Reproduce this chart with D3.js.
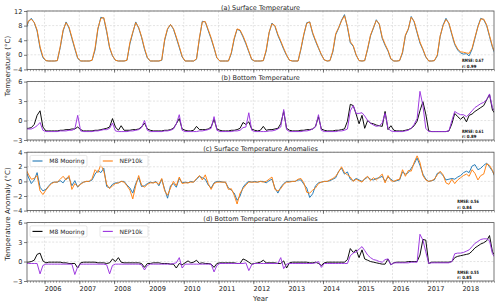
<!DOCTYPE html>
<html><head><meta charset="utf-8">
<script src="https://cdn.jsdelivr.net/npm/d3@7/dist/d3.min.js"></script>
<style>
body{margin:0;background:#fff}
svg{display:block}
text{font-family:"DejaVu Sans",sans-serif}
</style>
</head><body>
<svg id="chart" width="500" height="305"></svg>
<script>
// ---------- DATA (monthly, mid-month, Jun 2005 .. Dec 2018) ----------
const firstMonth = [2005, 5];   // year, month index (June 2005)
const yearLabels = ["2006","2007","2008","2009","2010","2011","2012","2013","2014","2015","2016","2017","2018"];
const seriesNames = ["M8 Mooring", "NEP10k"];
const panelTitles = ["(a) Surface Temperature","(b) Bottom Temperature","(c) Surface Temperature Anomalies","(d) Bottom Temperature Anomalies"];
const statLines = [["RMSE: 0.67","r: 0.99"],["RMSE: 0.61","r: 0.89"],["RMSE: 0.56","r: 0.84"],["RMSE: 0.55","r: 0.85"]];
const yTickValues = [[-4,0,4,8,12],[-3,0,3,6],[-4,-2,0,2,4],[-3,0,3,6]];

const surfM8 = [6.5,9.0,10.0,8.8,6.5,1.8,-0.8,
 -1.6,-1.7,-1.7,-1.7,-1.6,2.0,6.5,9.0,7.3,4.5,1.6,-1.0,
 -1.7,-1.7,-1.7,-1.7,-1.5,1.3,7.0,10.3,10.0,6.3,1.8,-0.3,
 -1.5,-1.7,-1.7,-1.7,-1.5,3.0,6.0,9.0,7.3,4.8,1.5,-0.9,
 -1.7,-1.7,-1.7,-1.7,-1.5,4.0,7.0,8.3,7.0,4.6,2.0,-0.6,
 -1.7,-1.7,-1.7,-1.7,-1.2,4.5,9.2,9.0,6.6,4.4,1.8,-0.9,
 -1.7,-1.7,-1.7,-1.7,0.3,4.3,7.0,6.6,4.9,3.0,0.8,-1.3,
 -1.7,-1.7,-1.7,-1.6,1.0,6.0,8.7,7.8,5.3,3.5,1.5,-0.2,
 -1.5,-1.7,-1.7,-1.7,1.5,5.5,8.8,9.0,5.8,3.7,1.8,0.0,
 -1.4,-1.7,-1.6,0.8,5.5,7.3,9.5,11.0,7.5,3.3,2.3,-0.1,
 -1.6,-1.7,-1.6,1.5,5.2,7.3,9.6,8.3,4.5,2.6,1.0,-1.2,
 -1.7,-1.7,-1.6,0.5,5.2,7.0,10.5,9.0,6.0,3.2,1.4,-0.6,
 -1.7,-1.7,-1.6,-0.3,5.0,8.2,10.0,8.5,5.5,2.8,1.3,0.5,
 0.2,0.3,-0.3,1.5,4.5,7.8,10.0,9.6,8.0,5.0,2.0,0.0];
const surfNEP = [7.0,9.3,9.7,8.9,6.8,2.2,-0.5,
 -1.6,-1.7,-1.7,-1.7,-1.6,2.3,6.8,8.8,7.6,4.8,1.9,-0.8,
 -1.7,-1.7,-1.7,-1.7,-1.5,1.8,7.3,10.0,10.2,6.6,2.1,-0.2,
 -1.5,-1.7,-1.7,-1.7,-1.5,3.4,6.2,8.8,7.5,5.0,1.8,-0.7,
 -1.7,-1.7,-1.7,-1.7,-1.4,4.3,7.2,8.3,7.2,4.9,2.3,-0.4,
 -1.7,-1.7,-1.7,-1.7,-1.1,4.8,9.0,9.1,6.9,4.7,2.0,-0.8,
 -1.7,-1.7,-1.7,-1.7,0.6,4.6,7.1,6.8,5.2,3.3,1.0,-1.2,
 -1.7,-1.7,-1.7,-1.6,1.3,6.2,8.5,8.0,5.6,3.8,1.8,0.0,
 -1.5,-1.7,-1.7,-1.7,1.8,5.8,8.6,9.0,6.1,4.0,2.0,0.1,
 -1.4,-1.7,-1.6,1.1,5.8,7.5,9.3,10.7,7.8,3.6,2.5,0.0,
 -1.6,-1.7,-1.6,1.8,5.4,7.5,9.4,8.5,4.8,2.9,1.2,-1.1,
 -1.7,-1.7,-1.6,0.8,5.4,7.2,10.3,9.2,6.3,3.5,1.6,-0.5,
 -1.7,-1.7,-1.6,0.0,5.2,8.0,9.7,8.7,5.8,3.1,1.6,0.8,
 0.7,0.5,0.4,1.8,4.8,7.6,9.8,9.8,8.2,5.3,2.3,0.3];
const botM8 = [-1.2,-1.2,-1.1,-0.6,0.8,1.5,-1.0,
 -1.6,-1.6,-1.6,-1.6,-1.6,-1.5,-1.5,-1.4,-1.4,-1.3,-1.3,-1.0,
 -1.4,-1.6,-1.6,-1.6,-1.6,-1.5,-1.5,-1.4,-1.3,-1.2,-1.0,0.3,
 -1.0,-1.5,-0.8,-1.5,-1.5,-1.5,-1.4,-1.4,-1.3,-1.0,-0.4,-1.3,
 -1.5,-1.6,-1.6,-1.6,-1.6,-1.5,-1.5,-1.4,-1.2,-0.5,0.3,-1.3,
 -1.5,-1.6,-1.6,-1.5,-0.9,-1.4,-1.4,-1.4,-1.3,-1.0,0.2,-1.3,
 -1.5,-1.6,-1.6,-1.6,-1.5,-1.5,-1.4,-1.2,-0.3,-0.6,-0.2,-1.3,
 -1.5,-1.6,-1.5,-0.9,-1.5,-1.4,-1.4,-1.3,-1.2,-0.5,1.4,-1.2,
 -1.5,-1.6,-1.6,-1.6,-1.5,-1.5,-1.4,-1.4,-1.3,-0.9,0.6,-1.3,
 -1.5,-1.6,-1.6,-1.6,-1.5,-1.5,-1.4,-1.3,-0.1,2.5,2.3,1.0,
 -0.5,0.8,-1.2,0.0,-0.4,-0.5,-0.7,-0.8,-0.9,1.4,-1.4,-0.8,
 -1.5,-1.6,-1.6,-1.6,-1.5,-1.4,-1.2,-0.8,-0.1,1.5,2.9,1.0,
 -1.6,-1.7,-1.7,-1.7,-1.7,-1.7,-1.7,-1.6,-0.5,1.1,0.6,0.2,
 0.6,-0.2,0.8,1.0,1.4,1.7,2.0,2.3,3.2,4.0,1.6,1.0];
const botNEP = [-1.3,-1.3,-1.3,-1.1,-0.8,-0.3,-1.5,
 -1.7,-1.7,-1.7,-1.7,-1.7,-1.6,-1.6,-1.6,-1.5,-1.5,-1.3,0.8,
 -1.6,-1.7,-1.7,-1.7,-1.7,-1.6,-1.6,-1.5,-1.4,-1.4,-1.2,-0.4,
 -1.6,-1.7,-1.7,-1.7,-1.7,-1.6,-1.6,-1.5,-1.4,-1.1,0.0,-1.5,
 -1.7,-1.7,-1.7,-1.7,-1.7,-1.6,-1.6,-1.5,-1.3,-0.5,0.9,-1.5,
 -1.7,-1.7,-1.7,-1.7,-1.7,-1.6,-1.6,-1.5,-1.4,-1.2,0.6,-1.5,
 -1.7,-1.7,-1.7,-1.7,-1.7,-1.6,-1.6,-1.5,-1.1,-1.0,1.2,-1.5,
 -1.7,-1.7,-1.7,-1.7,-1.7,-1.6,-1.6,-1.5,-1.3,-1.0,1.7,-1.4,
 -1.7,-1.7,-1.7,-1.7,-1.7,-1.6,-1.6,-1.5,-1.3,-1.0,0.9,-1.5,
 -1.7,-1.7,-1.7,-1.7,-1.7,-1.6,-1.6,-1.5,-1.3,1.5,2.3,1.1,
 1.1,1.2,0.7,0.0,-0.4,-0.7,-0.9,-0.8,-0.4,1.1,-1.2,-1.6,
 -1.7,-1.7,-1.7,-1.7,-1.6,-1.5,-1.2,-0.6,0.3,4.5,2.3,-1.2,
 -1.7,-1.7,-1.7,-1.7,-1.7,-1.7,-1.7,-1.6,0.0,1.4,1.1,0.9,
 0.9,0.6,1.0,1.5,2.0,2.3,2.6,2.8,3.2,4.1,2.0,1.2];
const surfAnomM8 = [1.6,0.6,-0.3,0.2,1.2,-0.8,-1.3,
 -1.1,-0.6,-0.2,-0.1,-0.1,0.1,-0.2,0.4,0.5,-0.6,0.1,-0.8,
 -0.3,-0.1,0.0,0.0,0.2,1.0,1.5,1.2,1.8,-0.7,-0.9,-0.4,
 -0.2,-0.2,0.0,0.0,-0.5,-0.9,-1.6,-0.3,0.5,-0.7,-0.6,-0.3,
 -0.1,-0.2,0.0,-0.6,0.3,-1.1,-2.3,-0.6,-0.3,-0.8,0.4,-0.2,
 -0.1,-0.2,0.0,-0.1,0.3,0.7,0.5,0.3,-0.5,-0.9,-0.2,0.0,
 0.0,-0.1,-0.1,-0.9,-1.2,-1.6,-2.6,-2.0,-0.8,-0.3,0.0,-0.1,
 0.0,-0.1,0.0,0.0,-0.2,0.1,0.3,-0.9,-1.6,-0.8,-0.3,0.0,
 0.0,0.0,0.0,0.2,0.2,-0.4,-0.9,-2.2,-1.7,-0.6,-0.2,-0.1,
 0.0,0.0,0.1,0.3,0.5,1.4,1.8,1.0,1.3,0.3,0.1,0.4,
 0.2,0.0,0.3,0.6,0.3,0.2,0.4,0.5,0.7,0.0,0.6,0.3,
 0.0,0.1,0.2,1.3,1.0,1.2,1.8,2.4,3.2,2.2,1.0,0.3,
 0.0,0.1,0.2,1.1,1.2,0.8,0.2,0.3,0.4,0.3,0.6,0.8,
 1.2,1.4,1.2,2.1,2.3,1.6,1.8,2.2,2.5,2.0,1.4,0.5];
const surfAnomNEP = [1.8,1.0,0.3,0.4,0.8,-1.3,-1.8,
 -1.2,-0.7,-0.3,-0.1,-0.1,0.3,0.7,0.2,0.8,-1.1,-0.3,-0.7,
 -0.4,-0.1,0.0,0.0,0.4,1.6,1.2,2.3,1.4,-0.4,-1.0,-0.6,
 -0.3,-0.2,0.0,-0.1,-0.6,-1.2,-2.4,-0.6,0.8,-0.5,-0.8,-0.4,
 -0.2,-0.2,-0.1,-0.4,0.4,-1.3,-1.9,-0.9,0.0,-0.6,0.6,-0.3,
 -0.2,-0.2,-0.1,-0.1,0.4,0.8,0.2,0.9,-0.3,-1.1,-0.3,-0.1,
 -0.1,-0.1,-0.1,-1.1,-1.0,-1.9,-3.1,-1.6,-1.0,-0.5,-0.1,-0.1,
 -0.1,-0.1,0.0,-0.1,0.0,0.3,0.6,-1.1,-1.3,-1.0,-0.4,-0.1,
 -0.1,0.0,0.0,0.3,0.4,-0.2,-1.5,-1.6,-1.2,-0.9,-0.3,-0.1,
 0.0,0.0,0.2,0.4,0.7,1.3,2.0,1.2,0.9,0.6,0.0,0.3,
 0.1,-0.1,0.4,0.7,0.1,0.5,0.2,0.6,1.0,-0.2,0.8,0.1,
 0.0,0.2,0.3,1.6,0.7,1.5,1.4,2.6,3.5,2.6,0.8,0.2,
 0.0,0.1,0.3,0.9,1.4,0.9,-0.2,-0.4,0.3,-0.3,0.2,0.5,
 0.8,1.0,0.7,1.6,1.1,0.2,0.8,1.0,2.4,2.2,1.5,0.6];
const botAnomM8 = [-0.1,-0.1,0.0,0.2,1.1,1.3,0.1,
 -0.2,-0.1,-0.1,-0.1,-0.1,-0.1,-0.2,-0.2,-0.3,-0.3,-0.3,-1.0,
 -0.2,-0.1,-0.1,-0.1,-0.1,-0.1,-0.2,-0.2,-0.2,-0.3,-0.2,0.4,
 0.0,0.6,-0.1,-0.2,-0.2,-0.2,-0.2,-0.2,-0.2,-0.3,-0.9,-0.3,
 -0.3,-0.2,-0.2,-0.2,-0.3,-0.3,-0.3,-0.4,-0.4,-1.0,-0.3,-0.5,
 -0.2,0.1,-0.2,-0.1,0.2,-0.3,-0.2,-0.3,-0.3,-0.4,-0.9,-0.3,
 -0.2,-0.2,-0.2,-0.2,-0.2,-0.2,-0.3,-0.3,0.4,0.2,-0.1,-0.4,
 -0.3,-0.2,-0.1,0.2,-0.2,-0.2,-0.2,-0.2,-0.3,-0.3,0.1,-1.0,
 -0.2,-0.1,-0.1,-0.1,-0.1,-0.1,-0.1,-0.2,-0.2,-0.1,-0.3,-0.6,
 -0.2,-0.1,-0.1,-0.1,-0.1,-0.1,-0.1,-0.1,0.3,2.0,1.4,1.8,
 0.6,1.8,0.4,0.2,0.0,-0.1,-0.2,-0.3,-0.4,-0.4,0.4,-0.5,
 -0.2,-0.1,-0.1,-0.1,-0.1,0.0,0.0,0.0,0.0,1.0,3.4,3.3,
 -0.3,-0.1,-0.1,-0.1,-0.1,-0.1,-0.1,-0.1,0.0,0.6,0.8,0.9,
 1.0,1.1,1.2,1.6,2.1,2.4,2.7,2.9,3.2,4.0,1.5,0.8];
const botAnomNEP = [-0.3,-0.3,-0.3,-0.3,-0.3,-1.9,-0.6,
 -0.4,-0.4,-0.4,-0.4,-0.4,-0.4,-0.4,-0.4,-0.4,-0.4,-2.0,-0.8,
 -0.4,-0.4,-0.4,-0.4,-0.4,-0.4,-0.4,-0.4,-0.4,-0.5,-1.9,-0.6,
 -0.4,-0.4,-0.4,-0.4,-0.4,-0.4,-0.4,-0.4,-0.4,-0.5,-1.3,-0.6,
 -0.4,-0.4,-0.4,-0.4,-0.4,-0.4,-0.4,-0.4,-0.3,-0.2,0.6,-1.0,
 -0.4,-0.4,-0.4,-0.4,-0.4,-0.4,-0.4,-0.4,-0.4,-0.4,-1.6,-0.6,
 -0.3,-0.3,-0.3,-0.3,-0.3,-0.3,-0.3,-0.3,-0.3,-0.2,-1.4,-0.5,
 -0.3,-0.3,-0.3,-0.3,-0.3,-0.3,-0.3,-0.3,-0.3,0.6,-1.1,-0.4,
 -0.3,-0.3,-0.3,-0.3,-0.3,-0.3,-0.3,-0.3,-0.3,-0.2,0.0,-0.9,
 -0.3,-0.3,-0.3,-0.3,-0.3,-0.3,-0.3,-0.3,-0.3,0.9,1.3,1.5,
 1.9,2.3,1.7,1.0,0.6,0.3,0.2,0.0,-0.1,0.3,0.4,-0.5,
 -0.2,-0.2,-0.2,-0.2,-0.2,-0.2,-0.1,-0.1,-0.1,4.2,3.3,1.5,
 -0.3,-0.2,-0.2,-0.2,-0.2,-0.2,-0.2,-0.2,0.0,1.2,1.3,1.3,
 1.4,1.6,1.8,2.3,2.8,3.1,3.4,3.5,3.5,3.2,1.2,0.5];

// ---------- LAYOUT ----------
const W = 500, Hh = 305;
const L = 27, R = 494, PH = 58.4;
const tops = [11, 81.6, 152.2, 222.6];
const panels = [
  {series:[surfM8, surfNEP], colors:["#1f77b4","#ff7f0e"], domain:[-4,12], legend:false},
  {series:[botM8, botNEP], colors:["#000000","#9a32de"], domain:[-3,6], legend:false},
  {series:[surfAnomM8, surfAnomNEP], colors:["#1f77b4","#ff7f0e"], domain:[-4,4], legend:true},
  {series:[botAnomM8, botAnomNEP], colors:["#000000","#9a32de"], domain:[-3,6], legend:true}
];

const dates = surfM8.map((_, i) => new Date(firstMonth[0], firstMonth[1] + i, 15));
const x = d3.scaleTime().domain([new Date(2005,6,1), new Date(2018,11,1)]).range([L, R]);
const yearDates = yearLabels.map(s => new Date(+s, 0, 1));
const monthDates = d3.timeMonth.range(new Date(2005,6,1), new Date(2018,11,2));
const fmt = d => d < 0 ? "\u2212" + Math.abs(d) : String(d);

const svg = d3.select("#chart");
svg.append("rect").attr("width", W).attr("height", Hh).attr("fill", "#fff");
const defs = svg.append("defs");

const tickColor = "#444", textColor = "#262626", FS = 6.6;

panels.forEach((p, k) => {
  const top = tops[k], bot = top + PH;
  const y = d3.scaleLinear().domain(p.domain).range([bot, top]);
  const g = svg.append("g");
  defs.append("clipPath").attr("id", "clip" + k)
    .append("rect").attr("x", L).attr("y", top).attr("width", R - L).attr("height", PH);

  // grid
  g.append("g").selectAll("line").data(yTickValues[k]).join("line")
    .attr("x1", L).attr("x2", R).attr("y1", d => y(d)).attr("y2", d => y(d))
    .attr("stroke", "#d0d0d0").attr("stroke-width", 0.6).attr("stroke-dasharray", "2,1.6");
  g.append("g").selectAll("line").data(yearDates).join("line")
    .attr("x1", d => x(d)).attr("x2", d => x(d)).attr("y1", top).attr("y2", bot)
    .attr("stroke", "#d0d0d0").attr("stroke-width", 0.6).attr("stroke-dasharray", "2,1.6");

  // lines
  const line = d3.line().x((d, i) => x(dates[i])).y(d => y(d));
  const lg = g.append("g").attr("clip-path", "url(#clip" + k + ")");
  p.series.forEach((s, j) => {
    lg.append("path").datum(s).attr("d", line).attr("fill", "none")
      .attr("stroke", p.colors[j]).attr("stroke-width", 0.95).attr("stroke-linejoin", "round");
  });

  // frame
  g.append("rect").attr("x", L).attr("y", top).attr("width", R - L).attr("height", PH)
    .attr("fill", "none").attr("stroke", "#555").attr("stroke-width", 0.8);

  // y axis
  const ya = g.append("g").attr("transform", `translate(${L},0)`)
    .call(d3.axisLeft(y).tickValues(yTickValues[k]).tickSize(3).tickPadding(1.5).tickFormat(fmt));
  ya.select(".domain").remove();
  ya.selectAll("line").attr("stroke", tickColor).attr("stroke-width", 0.7);
  ya.selectAll("text").attr("font-size", FS).attr("fill", textColor).attr("font-family", "DejaVu Sans");

  // x axis minor (monthly) ticks
  const xm = g.append("g").attr("transform", `translate(0,${bot})`)
    .call(d3.axisBottom(x).tickValues(monthDates).tickSize(1.8).tickFormat(""));
  xm.select(".domain").remove();
  xm.selectAll("line").attr("stroke", tickColor).attr("stroke-width", 0.5);
  // x axis major (yearly) ticks
  const xa = g.append("g").attr("transform", `translate(0,${bot})`)
    .call(d3.axisBottom(x).tickValues(yearDates).tickSize(3.2).tickFormat(""));
  xa.select(".domain").remove();
  xa.selectAll("line").attr("stroke", tickColor).attr("stroke-width", 0.7);
  if (k === 3) {
    g.append("g").selectAll("text").data(yearDates).join("text")
      .attr("x", (d, i) => x(d) + 8.6).attr("y", bot + 10.2)
      .attr("text-anchor", "middle").attr("font-size", FS).attr("fill", textColor)
      .text((d, i) => yearLabels[i]);
  }

  // title
  g.append("text").attr("x", (L + R) / 2).attr("y", top - 1.2).attr("text-anchor", "middle")
    .attr("font-size", 6.5).attr("fill", textColor).text(panelTitles[k]);

  // legend
  if (p.legend) {
    const boxes = [{x0: 30, w: 57, lx: 32.5, tx: 49.3}, {x0: 100, w: 48, lx: 102.8, tx: 119.5}];
    const ly = top + 3.2, lh = 11.2;
    boxes.forEach((b, j) => {
      g.append("rect").attr("x", b.x0).attr("y", ly).attr("width", b.w).attr("height", lh)
        .attr("rx", 1.5).attr("fill", "#fff").attr("fill-opacity", 0.85)
        .attr("stroke", "#d6d6d6").attr("stroke-width", 0.6);
      g.append("line").attr("x1", b.lx).attr("x2", b.lx + 10).attr("y1", ly + lh / 2).attr("y2", ly + lh / 2)
        .attr("stroke", p.colors[j]).attr("stroke-width", 1.1);
      g.append("text").attr("x", b.tx).attr("y", ly + lh / 2 + 2.1).attr("font-size", 6)
        .attr("fill", textColor).text(seriesNames[j]);
    });
  }

  // stats box
  const sx = k < 2 ? 462 : 457.3;
  const sb = g.append("g");
  sb.append("rect").attr("x", sx - 1.5).attr("y", bot - 12.6).attr("width", 25).attr("height", 11.6)
    .attr("fill", "#fff");
  statLines[k].forEach((t, j) => {
    sb.append("text").attr("x", sx).attr("y", bot - 7.3 + j * 5.5)
      .attr("font-size", 4.4).attr("font-weight", "bold").attr("fill", "#111")
      .attr("textLength", j === 0 ? 21.5 : 14.5).attr("lengthAdjust", "spacingAndGlyphs")
      .text(t);
  });
});

// axis titles
svg.append("text").attr("transform", "translate(9.5,66) rotate(-90)").attr("text-anchor", "middle")
  .attr("font-size", 7).attr("fill", textColor).text("Temperature (\u00B0C)");
svg.append("text").attr("transform", "translate(9.5,214) rotate(-90)").attr("text-anchor", "middle")
  .attr("font-size", 7).attr("fill", textColor).text("Temperature Anomaly (\u00B0C)");
svg.append("text").attr("x", (L + R) / 2).attr("y", 300.5).attr("text-anchor", "middle")
  .attr("font-size", 7).attr("fill", textColor).text("Year");
</script>
</body></html>
